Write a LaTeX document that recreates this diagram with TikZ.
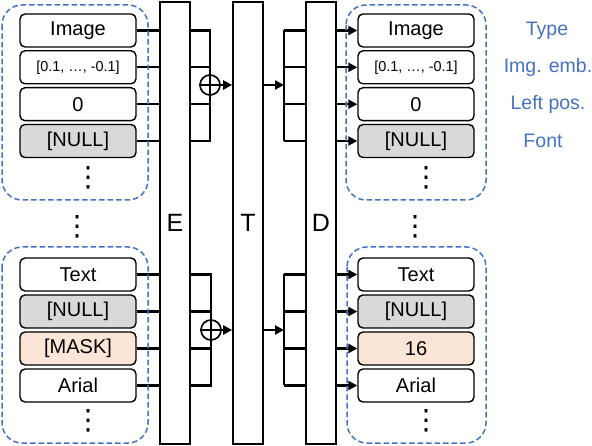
\documentclass[tikz,border=0pt]{standalone}
\usepackage{fontspec}
\setmainfont{Liberation Sans}
\newfontfamily\dejavu{DejaVu Sans}
\usetikzlibrary{arrows.meta}
\definecolor{nullgray}{HTML}{D9D9D9}
\definecolor{maskfill}{HTML}{FBE5D6}
\definecolor{dblue}{HTML}{4472C4}
\tikzset{
  field/.style={draw, rounded corners=5pt, line width=1.4pt, minimum width=116pt, minimum height=33pt, inner sep=0pt, fill=white, font=\fontsize{20}{20}\selectfont},
  small/.style={font=\fontsize{14.4}{15}\selectfont},
  nullf/.style={fill=nullgray},
  maskf/.style={fill=maskfill},
  block/.style={draw, line width=1.7pt, minimum width=30pt, minimum height=442pt, inner sep=0pt, font=\fontsize{25}{26}\selectfont},
  conn/.style={line width=2.2pt},
  arr/.style={line width=2.2pt, -{Triangle[length=9pt,width=9pt]}},
  plus/.style={draw, circle, line width=1.7pt, minimum size=20pt, inner sep=0pt, fill=white},
  dashbox/.style={draw=dblue, dash pattern=on 5.5pt off 3pt, line width=1.5pt, rounded corners=20pt},
  lab/.style={text=dblue, font=\fontsize{19.5}{20}\selectfont},
  dotsn/.style={inner sep=0pt, font=\dejavu\fontsize{28}{28}\selectfont},
}
\begin{document}
\begin{tikzpicture}[x=1pt,y=-1pt]
\useasboundingbox (0,0) rectangle (592,446);

% blocks
\node[block] (E) at (175,223) {E};
\node[block] (T) at (248,223) {T};
\node[block] (D) at (321,223) {D};

% left fields, top group
\node[field] (l1) at (78,30.5) {Image};
\node[field, small] (l2) at (78,67.3) {[0.1, …, -0.1]};
\node[field] (l3) at (78,104.2) {0};
\node[field, nullf] (l4) at (78,141) {[NULL]};
% left fields, bottom group
\node[field] (l5) at (78,274.5) {Text};
\node[field, nullf] (l6) at (78,311.5) {[NULL]};
\node[field, maskf] (l7) at (78,348.5) {[MASK]};
\node[field] (l8) at (78,385.5) {Arial};

% right fields
\node[field] (r1) at (416,30.5) {Image};
\node[field, small] (r2) at (416,67.3) {[0.1, …, -0.1]};
\node[field] (r3) at (416,104.2) {0};
\node[field, nullf] (r4) at (416,141) {[NULL]};
\node[field] (r5) at (416,274.5) {Text};
\node[field, nullf] (r6) at (416,311.5) {[NULL]};
\node[field, maskf] (r7) at (416,348.5) {16};
\node[field] (r8) at (416,385.5) {Arial};

% labels
\node[lab] (t1) at (547,30.5) {Type};
\node[lab] (t2) at (548,67.3) {Img. emb.};
\node[lab] (t3) at (548,104.2) {Left pos.};
\node[lab] (t4) at (543,141) {Font};

% dots
\node[dotsn] (d1) at (88,178) {⋮};
\node[dotsn] (d2) at (88,421) {⋮};
\node[dotsn] (d3) at (426,178) {⋮};
\node[dotsn] (d4) at (426,421) {⋮};
\node[dotsn] (d5) at (77,226.5) {⋮};
\node[dotsn] (d6) at (415,226.5) {⋮};

% plus circles
\node[plus] (p1) at (210,85) {};
\node[plus] (p2) at (211,330) {};
\coordinate (b1) at (284,85);
\coordinate (b2) at (284,330);

% left fields to E
\foreach \i in {1,...,8} {
  \draw[conn] (l\i.east) -- (l\i.east -| E.west);
}
% E to sum, top
\draw[conn] (E.east |- l1) -| (p1.north);
\draw[conn] (E.east |- l4) -| (p1.south);
\draw[conn] (E.east |- l2) -- (p1 |- l2);
\draw[conn] (E.east |- l3) -- (p1 |- l3);
% E to sum, bottom
\draw[conn] (E.east |- l5) -| (p2.north);
\draw[conn] (E.east |- l8) -| (p2.south);
\draw[conn] (E.east |- l6) -- (p2 |- l6);
\draw[conn] (E.east |- l7) -- (p2 |- l7);
% plus glyphs
\draw[line width=1.4pt] (p1.west) -- (p1.east) (p1.north) -- (p1.south);
\draw[line width=1.4pt] (p2.west) -- (p2.east) (p2.north) -- (p2.south);
% sum to T
\draw[arr] (p1.east) -- (p1.east -| T.west);
\draw[arr] (p2.east) -- (p2.east -| T.west);
% T to D bracket
\draw[arr] (T.east |- b1) -- (b1);
\draw[arr] (T.east |- b2) -- (b2);
\draw[conn] (b1 |- r1) -- (b1 |- r4);
\draw[conn] (b2 |- r5) -- (b2 |- r8);
\foreach \i in {1,...,4} {
  \draw[conn] (b1 |- r\i) -- (D.west |- r\i);
}
\foreach \i in {5,...,8} {
  \draw[conn] (b2 |- r\i) -- (D.west |- r\i);
}
% D to right fields
\foreach \i in {1,...,8} {
  \draw[arr] (D.east |- r\i) -- (r\i.west);
}

% dashed groups
\draw[dashbox] (2,5) rectangle (148,200);
\draw[dashbox] (2,247) rectangle (148,443);
\draw[dashbox] (346,5) rectangle (486,200);
\draw[dashbox] (347,247) rectangle (486,443);
\end{tikzpicture}
\end{document}
